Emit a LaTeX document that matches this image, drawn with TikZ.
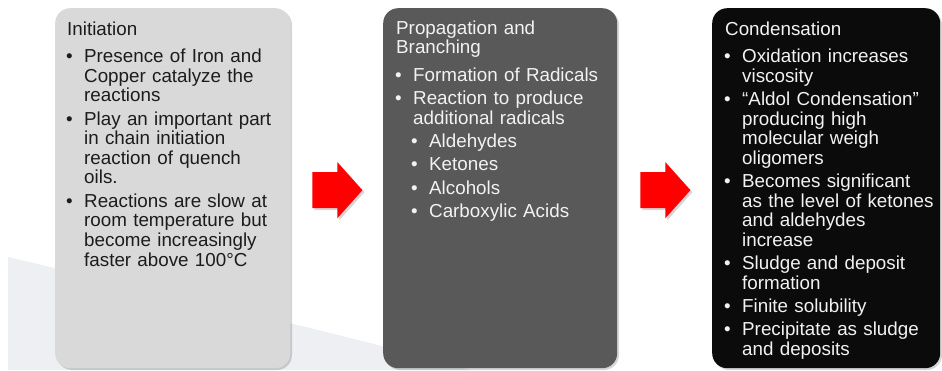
\documentclass[tikz,border=0pt]{standalone}
\usepackage{fontspec}
\setmainfont{Liberation Sans}
\usetikzlibrary{calc}
\definecolor{boxA}{HTML}{D9D9D9}
\definecolor{boxB}{HTML}{595959}
\definecolor{boxC}{HTML}{0B0B0B}
\definecolor{txtA}{HTML}{1C1C1C}
\definecolor{txtL}{HTML}{F2F2F2}
\definecolor{swoosh}{HTML}{EDEFF3}
\definecolor{arrowred}{HTML}{FF0000}
\newcommand{\bl}[1]{\par\vspace{3.7pt}\noindent\hangindent=17pt\hangafter=1\makebox[17pt][l]{\hspace{-1pt}\textbullet}#1}
\newcommand{\sbl}[1]{\par\vspace{3.7pt}\noindent\hangindent=33pt\hangafter=1\hspace{16pt}\makebox[17pt][l]{\hspace{-1pt}\textbullet}#1}
\newcommand{\ttl}[1]{#1\par\vspace{4.3pt}}
\tikzset{
  panel/.style={rectangle, rounded corners=15pt, minimum height=360pt, anchor=north west, inner sep=0pt},
  paneltext/.style={anchor=base west, inner sep=0pt, text width=250pt, align=left,
    font=\fontsize{18.8}{19.6}\selectfont},
  shade/.style={fill=black, opacity=0.16},
  redarrow/.style={fill=arrowred}
}
\begin{document}
\begin{tikzpicture}[x=1pt,y=-1pt]
\useasboundingbox (0,0) rectangle (942,370);
\fill[white] (0,0) rectangle (942,370);
% background swoosh
\fill[swoosh] (8,257) .. controls (180,298) and (330,330) .. (470,370) -- (8,370) -- cycle;
% panel shadows
\fill[shade, rounded corners=15pt] (57,10) rectangle (292,370);
\fill[shade, rounded corners=15pt] (385,10) rectangle (619,370);
\fill[shade, rounded corners=15pt] (714,10) rectangle (942,370);
% panels
\node[panel, fill=boxA, minimum width=235pt] (b1) at (55,8) {};
\node[panel, fill=boxB, minimum width=234pt] (b2) at (383,8) {};
\node[panel, fill=boxC, minimum width=228pt] (b3) at (712,8) {};
% texts
\node[paneltext, text=txtA] (t1) at ($(b1.north west)+(12,27)$) {%
\ttl{Initiation}%
\bl{Presence of Iron and\newline Copper catalyze the\newline reactions}%
\bl{Play an important part\newline in chain initiation\newline reaction of quench\newline oils.}%
\bl{Reactions are slow at\newline room temperature but\newline become increasingly\newline faster above 100°C}\par};
\node[paneltext, text=txtL] (t2) at ($(b2.north west)+(13,26)$) {%
\ttl{Propagation and\newline Branching}%
\bl{Formation of Radicals}%
\bl{Reaction to produce\newline additional radicals}%
\sbl{Aldehydes}%
\sbl{Ketones}%
\sbl{Alcohols}%
\sbl{Carboxylic Acids}\par};
\node[paneltext, text=txtL] (t3) at ($(b3.north west)+(13,27)$) {%
\ttl{Condensation}%
\bl{Oxidation increases\newline viscosity}%
\bl{“Aldol Condensation”\newline producing high\newline molecular weigh\newline oligomers}%
\bl{Becomes significant\newline as the level of ketones\newline and aldehydes\newline increase}%
\bl{Sludge and deposit\newline formation}%
\bl{Finite solubility}%
\bl{Precipitate as sludge\newline and deposits}\par};
% arrows
\coordinate (a1) at ($(b1.east)+(22,2)$);
\coordinate (a2) at ($(b2.east)+(23,2)$);
\foreach \a in {a1,a2}{
  \fill[shade] (\a) ++(2,-16) -- ++(25,0) -- ++(0,-10) -- ++(25,28) -- ++(-25,28) -- ++(0,-10) -- ++(-25,0) -- cycle;
  \fill[redarrow] (\a) ++(0,-18) -- ++(25,0) -- ++(0,-10) -- ++(25,28) -- ++(-25,28) -- ++(0,-10) -- ++(-25,0) -- cycle;
}
\end{tikzpicture}
\end{document}
